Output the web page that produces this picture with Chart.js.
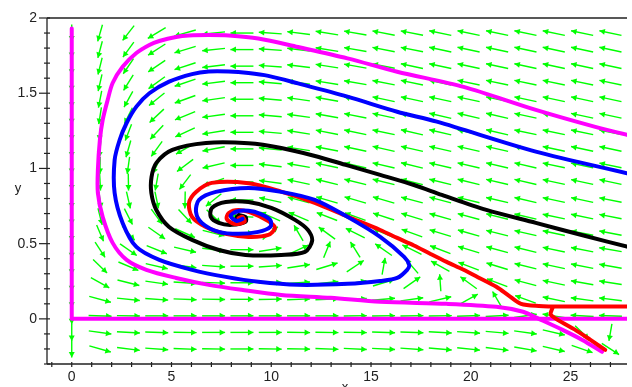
<!DOCTYPE html>
<html><head><meta charset="utf-8">
<script src="https://cdn.jsdelivr.net/npm/chart.js@4/dist/chart.umd.min.js"></script>
<style>html,body{margin:0;padding:0;background:#fff;overflow:hidden}#wrap{width:632px;height:387px;position:relative}</style>
</head><body><div id="wrap"><canvas id="c" width="632" height="387"></canvas></div>
<script>
// ---- direction field grid (columns x, rows y) and arrow directions (screen degrees, 0 = right, 90 = up)
const fieldX = [0,1.42,2.84,4.26,5.68,7.11,8.53,9.95,11.37,12.79,14.21,15.63,17.05,18.47,19.89,21.32,22.74,24.16,25.58,27.0];
const fieldY = [-0.2,-0.09,0.02,0.13,0.24,0.35,0.46,0.57,0.68,0.79,0.91,1.02,1.13,1.24,1.35,1.46,1.57,1.68,1.79,1.9];
const fieldAngles = [
 [-90,-16,-7,-4,-2,-1,0,-1,-1,-2,-3,-3,-4,-5,-6,-7,-10,-13,-19,-33],
 [-90,-8,-3,-2,-1,0,0,0,-1,-1,-1,-2,-2,-3,-4,-5,-8,-13,-44,-100],
 [-90,-2,-1,0,0,0,0,0,0,0,1,1,1,1,2,3,8,171,177,178],
 [-90,-15,-6,-4,-2,-1,0,1,2,2,4,5,8,13,29,120,160,168,172,173],
 [-90,-29,-14,-8,-4,-2,0,2,4,6,10,17,35,94,144,159,165,168,170,171],
 [-90,-44,-23,-13,-8,-4,0,4,9,17,34,80,131,151,159,163,166,168,169,170],
 [-90,-57,-35,-22,-13,-7,0,9,25,68,122,145,154,159,163,165,166,168,169,170],
 [-90,-67,-49,-35,-24,-14,0,40,120,144,153,157,160,163,164,166,167,168,169,169],
 [-90,-76,-63,-54,-47,-44,177,156,157,159,160,162,163,164,165,166,167,168,168,169],
 [-90,-82,-77,-78,-91,-141,180,168,165,164,164,164,165,165,166,167,167,168,168,169],
 [-90,-87,-89,-100,-127,-161,180,172,168,166,166,166,166,166,166,167,167,168,168,168],
 [-90,-91,-98,-116,-143,-167,180,173,170,168,167,167,166,167,167,167,167,168,168,168],
 [-90,-95,-106,-126,-150,-169,180,174,171,169,168,167,167,167,167,167,167,168,168,168],
 [-90,-97,-111,-133,-155,-171,180,175,171,169,168,168,167,167,167,167,168,168,168,168],
 [-90,-99,-116,-137,-158,-172,180,175,172,170,169,168,168,167,167,167,168,168,168,168],
 [-90,-101,-119,-141,-160,-172,180,175,172,170,169,168,168,168,168,168,168,168,168,168],
 [-90,-103,-122,-144,-161,-173,180,175,172,171,170,169,168,168,168,168,168,168,168,168],
 [-90,-104,-124,-146,-162,-173,180,176,173,171,170,169,168,168,168,168,168,168,168,168],
 [-90,-105,-126,-147,-163,-174,180,176,173,171,170,169,169,168,168,168,168,168,168,168],
 [-90,-106,-128,-149,-164,-174,180,176,173,171,170,169,169,168,168,168,168,168,168,168]
];

// ---- trajectories
const magentaAxisX = [0, 0, 27.83];
const magentaAxisY = [1.93, 0, 0];
const magentaX = [27.83,26.24,23.26,19.64,16.31,13.82,11.34,9.35,7.87,6.87,5.87,5.23,4.39,3.89,3.24,2.55,2.05,1.80,1.55,1.41,1.31,1.31,1.55,2.05,2.75,3.74,5.23,6.87,8.51,10.50,12.98,15.46,18.79,21.28,22.62,23.41,24.60,25.59,26.58];
const magentaY = [1.223,1.276,1.389,1.542,1.643,1.732,1.807,1.864,1.884,1.887,1.884,1.874,1.847,1.821,1.767,1.676,1.568,1.455,1.322,1.189,0.990,0.837,0.678,0.505,0.392,0.326,0.272,0.226,0.193,0.159,0.140,0.113,0.100,0.080,0.047,0.000,-0.073,-0.140,-0.219];
const blueX = [27.83,23.26,18.30,16.31,13.82,11.34,9.85,8.86,7.86,6.87,6.03,4.88,3.89,3.24,2.75,2.40,2.15,2.15,2.55,3.24,4.39,6.03,7.72,9.35,11.34,13.82,15.46,16.31,16.81,16.91,16.66,15.46,13.82,12.18,10.50,8.86,7.22,6.38,6.23,6.52,7.37,8.36,9.35,9.95,9.95,9.45,8.86,8.27,7.96,8.27,8.56];
const blueY = [0.968,1.112,1.311,1.377,1.477,1.565,1.615,1.634,1.644,1.644,1.627,1.577,1.500,1.411,1.302,1.189,1.056,0.837,0.638,0.478,0.392,0.326,0.279,0.246,0.226,0.233,0.252,0.272,0.326,0.359,0.412,0.545,0.678,0.791,0.844,0.870,0.844,0.791,0.711,0.638,0.578,0.565,0.578,0.611,0.658,0.698,0.718,0.714,0.684,0.651,0.665];
const blackX = [27.83,25.75,23.26,20.78,18.55,17.15,15.46,13.82,12.19,10.50,8.86,6.73,5.04,4.24,4.00,3.99,4.24,4.88,6.03,7.37,8.71,10.50,11.69,12.05,11.84,11.19,10.0,8.86,7.72,7.03,6.97,7.37,8.01,8.71,8.71,8.36];
const blackY = [0.480,0.551,0.638,0.724,0.824,0.890,0.957,1.020,1.083,1.136,1.167,1.169,1.123,1.037,0.944,0.837,0.724,0.611,0.525,0.458,0.425,0.425,0.445,0.520,0.591,0.658,0.738,0.777,0.777,0.738,0.678,0.638,0.625,0.645,0.678,0.691];
const redX = [27.83,24.60,23.41,22.52,21.92,21.28,20.43,19.64,18.79,17.94,17.15,16.31,15.46,13.82,12.18,10.50,8.86,7.02,6.23,5.88,6.03,6.72,7.72,8.86,9.85,10.19,9.85,9.01,8.36,7.87,7.77,8.16,8.66,8.56,8.36];
const redY = [0.082,0.082,0.086,0.100,0.153,0.213,0.272,0.326,0.379,0.435,0.488,0.538,0.591,0.680,0.771,0.846,0.902,0.904,0.844,0.771,0.678,0.611,0.565,0.545,0.558,0.605,0.650,0.704,0.724,0.704,0.664,0.631,0.645,0.678,0.670];
const redLowX = [24.10,24.00,24.40,25.20,26.00,26.74];
const redLowY = [0.075,0.030,-0.010,-0.070,-0.140,-0.206];
const centerX = [8.36];
const centerY = [0.671];

// ---- axis ticks
const xTickLabels = ['0','5','10','15','20','25'];
const xTickValues = [0,5,10,15,20,25];
const yTickLabels = ['0','0.5','1','1.5','2'];
const yTickValues = [0,0.5,1,1.5,2];

const pts = (xs, ys) => xs.map((v, i) => ({x: v, y: ys[i]}));

const fieldPlugin = {
  id: 'field',
  beforeDatasetsDraw(chart) {
    const {ctx, scales: {x, y}, chartArea: ca} = chart;
    ctx.save();
    ctx.beginPath(); ctx.rect(ca.left, ca.top, ca.right - ca.left, ca.bottom - ca.top); ctx.clip();
    ctx.strokeStyle = '#00ff00'; ctx.fillStyle = '#00ff00'; ctx.lineWidth = 1.4;
    for (let j = 0; j < fieldY.length; j++) {
      for (let i = 0; i < fieldX.length; i++) {
        const a = fieldAngles[j][i] * Math.PI / 180;
        const c = Math.cos(a), s = Math.sin(a);
        const L = 1 / Math.sqrt((c / 11.5) ** 2 + (s / 8.5) ** 2);
        const px = x.getPixelForValue(fieldX[i]), py = y.getPixelForValue(fieldY[j]);
        const ux = c, uy = -s;
        const tx = px - ux * L, ty = py - uy * L;
        const hx = px + ux * L, hy = py + uy * L;
        ctx.beginPath(); ctx.moveTo(tx, ty); ctx.lineTo(hx, hy); ctx.stroke();
        const hl = 5.5, hw = 3;
        const bx = hx - ux * hl, by = hy - uy * hl;
        ctx.beginPath(); ctx.moveTo(hx, hy);
        ctx.lineTo(bx - uy * hw, by + ux * hw);
        ctx.lineTo(bx + uy * hw, by - ux * hw);
        ctx.closePath(); ctx.fill();
      }
    }
    ctx.restore();
  }
};

const axesPlugin = {
  id: 'axes',
  afterDraw(chart) {
    const {ctx, scales: {x, y}, chartArea: ca} = chart;
    ctx.save();
    ctx.strokeStyle = '#222'; ctx.lineWidth = 1.3;
    ctx.beginPath();
    ctx.moveTo(ca.left, ca.top); ctx.lineTo(ca.left, ca.bottom);
    ctx.moveTo(ca.left, ca.bottom); ctx.lineTo(ca.right, ca.bottom);
    ctx.moveTo(ca.left, ca.top); ctx.lineTo(ca.right, ca.top);
    ctx.stroke();
    ctx.lineWidth = 1.2;
    for (let k = -3; k <= 20; k++) {
      const py = y.getPixelForValue(k / 10);
      const major = k % 5 === 0;
      ctx.beginPath();
      ctx.moveTo(ca.left - (major ? 8 : 3), py); ctx.lineTo(ca.left + 3, py); ctx.stroke();
    }
    for (let k = -1; k <= 27; k++) {
      const px = x.getPixelForValue(k);
      ctx.beginPath();
      ctx.moveTo(px, ca.bottom - 2); ctx.lineTo(px, ca.bottom + 3); ctx.stroke();
    }
    ctx.fillStyle = '#222';
    ctx.font = '14px "Liberation Sans", Arial, sans-serif';
    ctx.textAlign = 'right'; ctx.textBaseline = 'middle';
    yTickValues.forEach((v, i) => ctx.fillText(yTickLabels[i], ca.left - 10, y.getPixelForValue(v)));
    ctx.textAlign = 'center'; ctx.textBaseline = 'top';
    xTickValues.forEach((v, i) => ctx.fillText(xTickLabels[i], x.getPixelForValue(v), ca.bottom + 6));
    ctx.font = '13px "Liberation Sans", Arial, sans-serif';
    ctx.textBaseline = 'middle';
    ctx.fillText('y', 18, 188);
    ctx.textBaseline = 'top';
    ctx.fillText('x', 345, 381);
    ctx.restore();
  }
};

const line = (data, color) => ({type: 'line', data, borderColor: color, backgroundColor: color, borderWidth: 4, pointRadius: 0, tension: 0.3, fill: false, borderCapStyle: 'round', borderJoinStyle: 'round'});

new Chart(document.getElementById('c'), {
  type: 'scatter',
  data: {
    datasets: [
      line(pts(blueX, blueY), '#0000ff'),
      line(pts(redX, redY), '#ff0000'),
      Object.assign(line(pts(redLowX, redLowY), '#ff0000'), {tension: 0.2}),
      line(pts(blackX, blackY), '#000000'),
      line(pts(magentaX, magentaY), '#ff00ff'),
      Object.assign(line(pts(magentaAxisX, magentaAxisY), '#ff00ff'), {tension: 0}),
      {type: 'scatter', data: pts(centerX, centerY), pointRadius: 3.5, backgroundColor: '#000', borderColor: '#000'}
    ]
  },
  options: {
    responsive: false, animation: false, events: [],
    layout: {padding: {left: 47, right: 0, top: 18, bottom: 23}},
    plugins: {legend: {display: false}, tooltip: {enabled: false}},
    scales: {
      x: {type: 'linear', min: -1.24, max: 27.83, display: false},
      y: {type: 'linear', min: -0.3, max: 2, display: false}
    }
  },
  plugins: [fieldPlugin, axesPlugin]
});
</script>
</body></html>
